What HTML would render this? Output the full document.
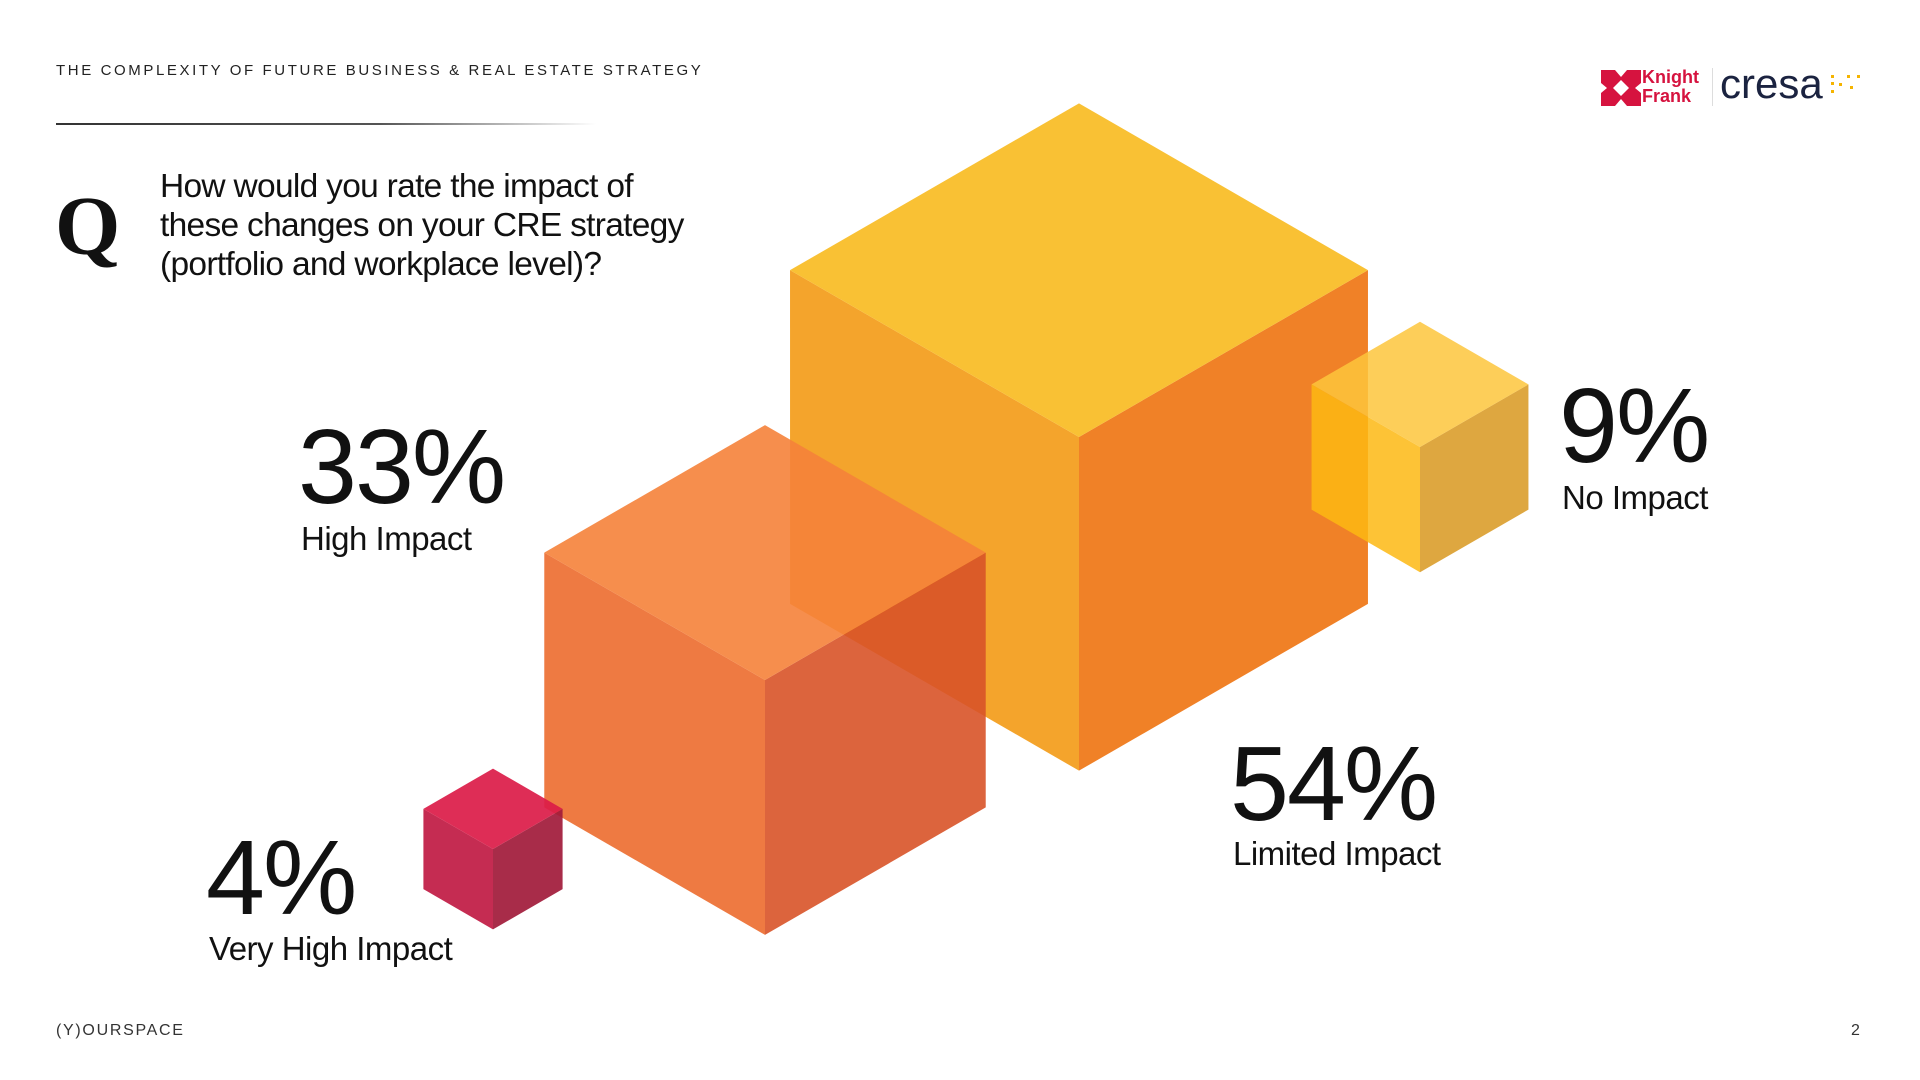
<!DOCTYPE html>
<html><head><meta charset="utf-8">
<style>
body{margin:0;width:1920px;height:1080px;background:#fff;overflow:hidden;font-family:"Liberation Sans",sans-serif;color:#111;position:relative}
.abs{position:absolute;white-space:nowrap}
.hdr{left:56px;top:62px;font-size:15px;letter-spacing:2.6px;color:#222}
.q{left:55px;top:185px;font-family:"Liberation Serif",serif;font-weight:bold;font-size:84px;line-height:1}
.qt{left:160px;top:167px;font-size:33.5px;line-height:39px;letter-spacing:-0.7px;color:#111}
.num{font-size:106px;line-height:1;letter-spacing:-2px;color:#111}
.lab{font-size:33px;line-height:1;letter-spacing:-0.5px;color:#111}
.foot{font-size:16px;letter-spacing:1.7px;color:#333}
</style></head><body>
<div class="abs hdr">THE COMPLEXITY OF FUTURE BUSINESS &amp; REAL ESTATE STRATEGY</div>
<div class="abs" style="left:56px;top:123px;width:540px;height:1.5px;background:linear-gradient(90deg,#333 0%,#555 60%,rgba(0,0,0,0) 100%)"></div>
<div class="abs q">Q</div>
<div class="abs qt">How would you rate the impact of<br>these changes on your CRE strategy<br>(portfolio and workplace level)?</div>

<div class="abs" style="left:1601px;top:70px;width:100px;height:36px">
<svg width="40" height="36" viewBox="0 0 40 36" style="position:absolute;left:0;top:0">
<polygon points="0,0 14,0 20,7 26,0 40,0 40,13 34,18 40,23 40,36 26,36 20,29 14,36 0,36 0,23 6,18 0,13" fill="#D6133F"/>
<polygon points="20,10 28,18 20,26 12,18" fill="#fff"/>
</svg>
<div class="abs" style="left:41px;top:-2px;font-weight:bold;font-size:18px;line-height:19px;color:#D6133F">Knight<br>Frank</div>
</div>
<div class="abs" style="left:1712px;top:68px;width:1px;height:38px;background:#ddd"></div>
<div class="abs" style="left:1720px;top:60px;font-size:42px;color:#1B2340;letter-spacing:0px">cresa</div>
<svg class="abs" style="left:1830px;top:74px" width="36" height="24">
<g fill="#F5B400"><rect x="1" y="1" width="3" height="3"/><rect x="1" y="8" width="3" height="3"/><rect x="1" y="16" width="3" height="3"/><rect x="9" y="9" width="3" height="3"/><rect x="17" y="1" width="3" height="3"/><rect x="20" y="12" width="3" height="3"/><rect x="27" y="1" width="3" height="3"/></g>
</svg>

<svg class="abs" style="left:0;top:0" width="1920" height="1080" id="chart"></svg>

<div class="abs num" style="left:298px;top:414px">33%</div>
<div class="abs lab" style="left:301px;top:522px">High Impact</div>
<div class="abs num" style="left:1559px;top:373px">9%</div>
<div class="abs lab" style="left:1562px;top:481px">No Impact</div>
<div class="abs num" style="left:1230px;top:731px">54%</div>
<div class="abs lab" style="left:1233px;top:837px">Limited Impact</div>
<div class="abs num" style="left:206px;top:825px">4%</div>
<div class="abs lab" style="left:209px;top:932px">Very High Impact</div>

<div class="abs foot" style="left:56px;top:1022px">(Y)OURSPACE</div>
<div class="abs foot" style="left:1851px;top:1022px">2</div>

<script>
const categories = ["Limited Impact","No Impact","High Impact","Very High Impact"];
const values = [54, 9, 33, 4];
// drawing order: back to front
const anchorX = [1079, 1420, 765, 493];
const anchorY = [437, 447, 680, 849];
const topColors = ["#F9C134","#FDC63C","#F5823A","#DB1B48"];
const leftColors = ["#F4A42C","#FDB913","#EC6C2D","#C01A43"];
const rightColors = ["#F08127","#D8981F","#D85328","#A11A3A"];
const opac = [1, 0.85, 0.9, 0.92];

function halfWidth(v){ return 32.6*Math.pow(v, 0.547); }
const svg = document.getElementById('chart');
const NS = 'http://www.w3.org/2000/svg';
function poly(pts, fill, op, name){
  const p = document.createElementNS(NS,'polygon');
  p.setAttribute('points', pts.map(a=>a.join(',')).join(' '));
  p.setAttribute('fill', fill);
  p.setAttribute('fill-opacity', op);
  
  
  svg.appendChild(p);
}
values.forEach((v,i)=>{
  const w = halfWidth(v);
  const h = w*Math.tan(Math.PI/6);
  const e = 2*h;
  const cx = anchorX[i], cy = anchorY[i];
  const slug = categories[i].toLowerCase().replace(/ /g,'-');
  poly([[cx,cy],[cx-w,cy-h],[cx-w,cy-h+e],[cx,cy+e]], leftColors[i], opac[i], 'cube-left-'+slug);
  poly([[cx,cy],[cx+w,cy-h],[cx+w,cy-h+e],[cx,cy+e]], rightColors[i], opac[i], 'cube-right-'+slug);
  poly([[cx,cy],[cx-w,cy-h],[cx,cy-2*h],[cx+w,cy-h]], topColors[i], opac[i], 'cube-top-'+slug);
});
</script>
</body></html>
